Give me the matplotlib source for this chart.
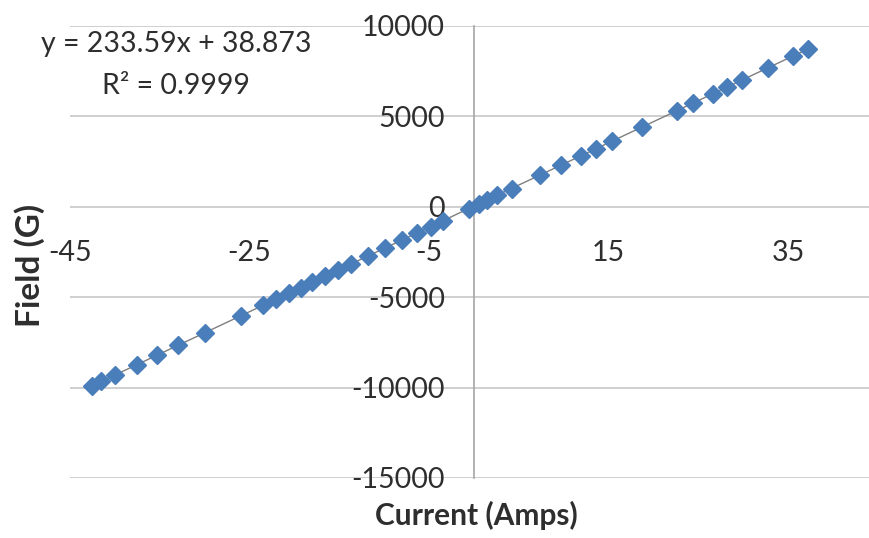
import matplotlib

matplotlib.use("Agg")
import matplotlib.pyplot as plt

plt.rcParams["font.family"] = ["Lato", "DejaVu Sans"]
plt.rcParams["axes.unicode_minus"] = False

# magnet calibration: current through coil vs. measured field
current_amps = [
    -42.5, -41.5, -40.0, -37.5, -35.3, -33.0, -30.0, -26.0, -23.5, -22.0,
    -20.6, -19.3, -18.0, -16.6, -15.2, -13.7, -11.8, -9.9, -8.0, -6.4,
    -4.8, -3.5, -0.6, 0.6, 1.5, 2.6, 4.2, 7.3, 9.7, 11.9,
    13.6, 15.4, 18.7, 22.6, 24.4, 26.6, 28.2, 29.9, 32.7, 35.5, 37.2,
]
field_gauss = [
    -9890, -9650, -9300, -8730, -8200, -7660, -6980, -6040, -5440, -5110,
    -4770, -4480, -4160, -3850, -3500, -3170, -2710, -2280, -1820, -1460,
    -1090, -770, -100, 180, 390, 650, 1010, 1750, 2300, 2820,
    3210, 3640, 4400, 5320, 5730, 6260, 6620, 7030, 7670, 8340, 8720,
]

fit_slope = 233.59
fit_intercept = 38.873
fit_r2 = 0.9999

x_ticks = [-45, -25, -5, 15, 35]
y_ticks = [-15000, -10000, -5000, 0, 5000, 10000]

text_color = "#2e2e2e"
marker_color = "#4a7ebb"

fig = plt.figure(figsize=(8.69, 5.38), dpi=100)
ax = fig.add_axes([70 / 869, 60 / 538, 808 / 869, 452 / 538])

ax.set_xlim(-45, 45)
ax.set_ylim(-15000, 10000)

# horizontal gridlines only
ax.set_yticks(y_ticks)
ax.set_xticks(x_ticks)
ax.yaxis.grid(True, color="#cccccc", linewidth=1.3)
ax.set_axisbelow(True)

for side in ("top", "right"):
    ax.spines[side].set_visible(False)
ax.spines["left"].set_position(("data", 0))
ax.spines["left"].set_color("#a6a6a6")
ax.spines["left"].set_linewidth(1.2)
ax.spines["bottom"].set_position(("data", 0))
ax.spines["bottom"].set_visible(False)

ax.tick_params(axis="y", length=0, pad=21, labelsize=20.5, labelcolor=text_color)
ax.tick_params(axis="x", length=0, pad=24, labelsize=20.5, labelcolor=text_color)

# linear trendline across the data range
x0, x1 = min(current_amps), max(current_amps)
ax.plot(
    [x0, x1],
    [fit_slope * x0 + fit_intercept, fit_slope * x1 + fit_intercept],
    color="#7f7f7f",
    linewidth=1.0,
    zorder=2,
)
ax.plot(
    current_amps,
    field_gauss,
    linestyle="none",
    marker="D",
    markersize=9.5,
    color=marker_color,
    markeredgecolor=marker_color,
    zorder=3,
)

fig.text(176 / 869, 1 - 44 / 538, f"y = {fit_slope}x + {fit_intercept}",
         ha="center", va="center", fontsize=20.5, color=text_color)
fig.text(176 / 869, 1 - 86 / 538, f"R² = {fit_r2}",
         ha="center", va="center", fontsize=20.5, color=text_color)

fig.text(30 / 869, 1 - 265 / 538, "Field (G)", rotation=90, ha="center",
         va="center", fontsize=24, fontweight="bold", color=text_color)
fig.text(476 / 869, 1 - 515 / 538, "Current (Amps)", ha="center",
         va="center", fontsize=21.5, fontweight="bold", color=text_color)

fig.savefig("out.png", dpi=100)
